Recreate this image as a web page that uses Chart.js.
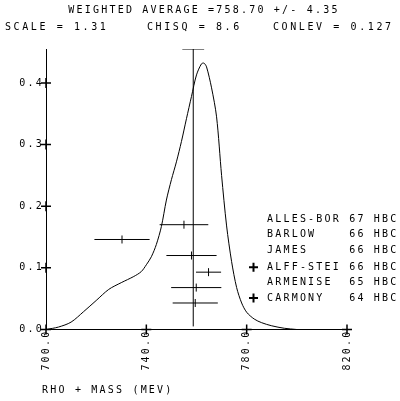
<!DOCTYPE html>
<html>
<head>
<meta charset="utf-8">
<script src="https://cdn.jsdelivr.net/npm/chart.js@4.4.1/dist/chart.umd.min.js"></script>
<style>
  html, body { margin: 0; padding: 0; background: #fff; }
  #wrap { width: 400px; height: 401px; }
</style>
</head>
<body>
<div id="wrap"><canvas id="myChart" width="400" height="401"></canvas></div>
<script>
// ideogram curve
const curveMass = [700, 705, 710, 715, 720, 725, 730, 735, 738, 740, 742, 744, 746, 748, 750, 752, 754, 756, 758, 760, 762, 763, 764, 766, 768, 770, 772, 774, 776, 778, 780, 783, 786, 790, 795, 800];
const curveValue = [0, 0.004, 0.012, 0.029, 0.047, 0.065, 0.076, 0.086, 0.094, 0.105, 0.118, 0.138, 0.167, 0.21, 0.243, 0.272, 0.305, 0.342, 0.378, 0.413, 0.431, 0.432, 0.426, 0.392, 0.345, 0.25, 0.168, 0.11, 0.068, 0.043, 0.028, 0.017, 0.011, 0.006, 0.002, 0];

// measurements
const measNames = ['ALLES-BOR', 'BARLOW', 'JAMES', 'ALFF-STEI', 'ARMENISE', 'CARMONY'];
const measYears = ['67', '66', '66', '66', '65', '64'];
const measTech = ['HBC', 'HBC', 'HBC', 'HBC', 'HBC', 'HBC'];
const measMass = [755, 730.3, 758, 764.8, 759.9, 759.5];
const measErr = [9.7, 11, 10, 5, 10, 9];
const measRow = [0.170, 0.146, 0.120, 0.093, 0.068, 0.043];
const measFlag = [false, false, false, true, false, true];

// weighted average
const avgMass = 758.7;
const avgErr = 4.35;
const avgBottom = 0.005;
const avgTop = 0.455;

const xTicks = [700, 740, 780, 820];
const yTicks = [0, 0.1, 0.2, 0.3, 0.4];
const titleLine = 'WEIGHTED AVERAGE =758.70 +/- 4.35';
const statParts = ['SCALE = 1.31', 'CHISQ =', '8.6', 'CONLEV = 0.127'];
const xTitle = 'RHO + MASS (MEV)';

const FONT = "'DejaVu Sans Mono', monospace";
const SPACING = '2.2px';

const datasets = [];
datasets.push({
  data: curveMass.map((m, i) => ({ x: m, y: curveValue[i] })),
  showLine: true,
  borderColor: '#000',
  borderWidth: 1,
  pointRadius: 0,
  tension: 0.3,
});
datasets.push({
  data: [{ x: avgMass, y: avgBottom }, { x: avgMass, y: avgTop }],
  showLine: true,
  borderColor: '#000',
  borderWidth: 1,
  pointRadius: 0,
});
datasets.push({
  data: [{ x: avgMass - avgErr, y: avgTop }, { x: avgMass + avgErr, y: avgTop }],
  showLine: true,
  borderColor: '#000',
  borderWidth: 1,
  pointRadius: 0,
});
measMass.forEach((m, i) => {
  datasets.push({
    data: [{ x: m - measErr[i], y: measRow[i] }, { x: m + measErr[i], y: measRow[i] }],
    showLine: true,
    borderColor: '#000',
    borderWidth: 1,
    pointRadius: 0,
  });
});
datasets.push({
  data: measMass.map((m, i) => ({ x: m, y: measRow[i] })),
  showLine: false,
  pointStyle: 'line',
  rotation: 90,
  pointRadius: 4,
  borderColor: '#000',
  borderWidth: 1,
});

// plotter look: wide letter spacing, "+" ticks on the axes, header and list of experiments
const plotterText = {
  id: 'plotterText',
  beforeLayout(chart) { chart.ctx.letterSpacing = SPACING; },
  beforeDraw(chart) { chart.ctx.letterSpacing = SPACING; },
  afterDraw(chart) {
    const ctx = chart.ctx;
    const xs = chart.scales.x;
    const ys = chart.scales.y;
    const x0 = xs.getPixelForValue(700);
    const y0 = ys.getPixelForValue(0);
    ctx.save();
    ctx.strokeStyle = '#000';
    ctx.lineWidth = 1.5;
    ctx.beginPath();
    xTicks.forEach(v => {
      const px = xs.getPixelForValue(v);
      ctx.moveTo(px, y0 - 5); ctx.lineTo(px, y0 + 5);
      ctx.moveTo(px - 5, y0); ctx.lineTo(px + 5, y0);
    });
    yTicks.forEach(v => {
      const py = ys.getPixelForValue(v);
      ctx.moveTo(x0 - 5, py); ctx.lineTo(x0 + 5, py);
      ctx.moveTo(x0, py - 5); ctx.lineTo(x0, py + 5);
    });
    ctx.stroke();

    ctx.fillStyle = '#000';
    ctx.font = '10px ' + FONT;
    ctx.letterSpacing = SPACING;
    ctx.textBaseline = 'middle';

    // header
    ctx.textAlign = 'center';
    ctx.fillText(titleLine, 204, 10);
    ctx.textAlign = 'left';
    ctx.letterSpacing = '2.6px';
    ctx.fillText(statParts[0], 5, 27);
    ctx.fillText(statParts[1], 147, 27);
    ctx.fillText(statParts[2], 216, 27);
    ctx.fillText(statParts[3], 273, 27);
    ctx.letterSpacing = SPACING;

    measNames.forEach((name, i) => {
      const py = ys.getPixelForValue(measRow[i]) - 5;
      ctx.fillText(name.padEnd(9, ' ') + ' ' + measYears[i] + ' ' + measTech[i], 267, py);
      if (measFlag[i]) {
        ctx.lineWidth = 2;
        ctx.beginPath();
        ctx.moveTo(249, py); ctx.lineTo(258, py);
        ctx.moveTo(253.5, py - 4.5); ctx.lineTo(253.5, py + 4.5);
        ctx.stroke();
      }
    });
    ctx.fillText(xTitle, 42, 390);
    ctx.restore();
  }
};

const ctx = document.getElementById('myChart').getContext('2d');
new Chart(ctx, {
  type: 'scatter',
  data: { datasets },
  options: {
    responsive: false,
    animation: false,
    layout: { padding: { left: 0, top: 49, right: 53, bottom: 0 } },
    plugins: {
      legend: { display: false },
      tooltip: { enabled: false },
      title: { display: false },
    },
    scales: {
      x: {
        type: 'linear',
        min: 700,
        max: 820,
        afterBuildTicks: s => { s.ticks = xTicks.map(v => ({ value: v })); },
        afterFit: s => { s.height = 71.5; },
        grid: { drawOnChartArea: false, drawTicks: false },
        border: { display: true, color: '#000', width: 1 },
        ticks: {
          autoSkip: false,
          minRotation: 90,
          maxRotation: 90,
          padding: 0,
          color: '#000',
          font: { family: FONT, size: 10 },
          callback: v => v.toFixed(1),
        },
      },
      y: {
        type: 'linear',
        min: 0,
        max: avgTop,
        afterBuildTicks: s => { s.ticks = yTicks.map(v => ({ value: v })); },
        afterFit: s => { s.width = 46; },
        grid: { drawOnChartArea: false, drawTicks: false },
        border: { display: true, color: '#000', width: 1 },
        ticks: {
          padding: 2,
          color: '#000',
          font: { family: FONT, size: 10 },
          callback: v => v.toFixed(1),
        },
      },
    },
  },
  plugins: [plotterText],
});
</script>
</body>
</html>
